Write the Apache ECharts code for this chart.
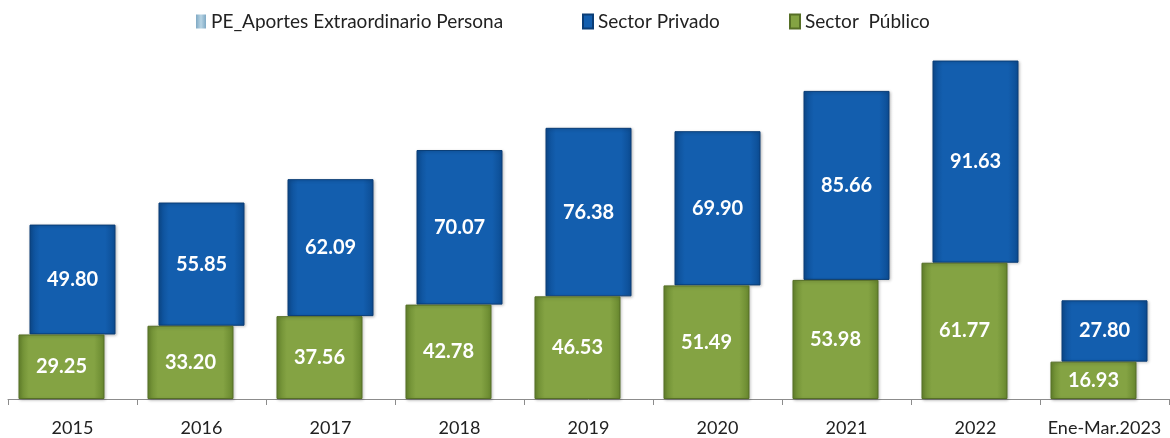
<!DOCTYPE html>
<html><head><meta charset="utf-8">
<script src="https://cdn.jsdelivr.net/npm/echarts@6/dist/echarts.min.js"></script>
<style>html,body{margin:0;padding:0;background:#fff}#c{width:1170px;height:438px}</style>
</head><body><div id="c"></div>
<script>
const categories = ['2015','2016','2017','2018','2019','2020','2021','2022','Ene-Mar.2023'];
const sectorPublico = [29.25,33.20,37.56,42.78,46.53,51.49,53.98,61.77,16.93];
const sectorPrivado = [49.80,55.85,62.09,70.07,76.38,69.90,85.66,91.63,27.80];
const peAportes = [null,null,null,null,null,null,null,null,null];
const legendNames = ['PE_Aportes Extraordinario Persona','Sector Privado','Sector  Público'];

const FONT = "Lato, sans-serif";
function hgrad(edge, mid){
  return {type:'linear',x:0,y:0,x2:1,y2:0,colorStops:[
    {offset:0,color:edge},{offset:0.12,color:mid},{offset:0.88,color:mid},{offset:1,color:edge}]};
}
const blueStyle = {color:hgrad('#0c4c92','#135eae'), borderColor:'#0a3d76', borderWidth:1, shadowColor:'rgba(0,0,0,0.25)', shadowBlur:3, shadowOffsetX:1, shadowOffsetY:1};
const greenStyle = {color:hgrad('#67872e','#84a343'), borderColor:'#566f26', borderWidth:1, shadowColor:'rgba(0,0,0,0.25)', shadowBlur:3, shadowOffsetX:1, shadowOffsetY:1};
const peStyle = {color:{type:'linear',x:0,y:0,x2:1,y2:0,colorStops:[{offset:0,color:'#7fa9c4'},{offset:0.5,color:'#b7d4e4'},{offset:1,color:'#7fa9c4'}]}};
const lbl = {show:true, position:'inside', color:'#fff', fontFamily:FONT, fontWeight:'bold', fontSize:20, formatter:p=>p.value==null?'':Number(p.value).toFixed(2)};

const legendLefts = [191, 577, 784];
const legends = legendNames.map((n,i)=>({
  data:[n], left:legendLefts[i], top:7, itemWidth:10, itemHeight:14, itemGap:5,
  textStyle:{fontFamily:FONT, fontSize:19, color:'#222'}, icon:'rect'
}));

const chart = echarts.init(document.getElementById('c'), null, {renderer:'canvas'});
chart.setOption({
  animation:false,
  backgroundColor:'#fff',
  legend:legends,
  grid:{left:8, right:1, top:46, bottom:39, containLabel:false},
  xAxis:{
    type:'category', data:categories,
    axisLine:{lineStyle:{color:'#8c8c8c', width:1}},
    axisTick:{show:true, length:6, lineStyle:{color:'#8c8c8c'}},
    axisLabel:{fontFamily:FONT, fontSize:18, color:'#222', margin:20, interval:0}
  },
  yAxis:{type:'value', min:0, max:160, show:false, splitLine:{show:false}},
  series:[
    {name:'Sector  Público', type:'bar', stack:'pub', data:sectorPublico, barWidth:86, barGap:'-87.2%', itemStyle:greenStyle, label:lbl, z:3},
    {name:'base', type:'bar', stack:'priv', data:sectorPublico, barWidth:86, itemStyle:{color:'transparent'}, silent:true, z:1},
    {name:'Sector Privado', type:'bar', stack:'priv', data:sectorPrivado, barWidth:86, itemStyle:blueStyle, label:lbl, z:2},
    {name:'PE_Aportes Extraordinario Persona', type:'bar', stack:'pe', data:peAportes, barWidth:86, itemStyle:peStyle, z:1}
  ]
});
</script></body></html>
